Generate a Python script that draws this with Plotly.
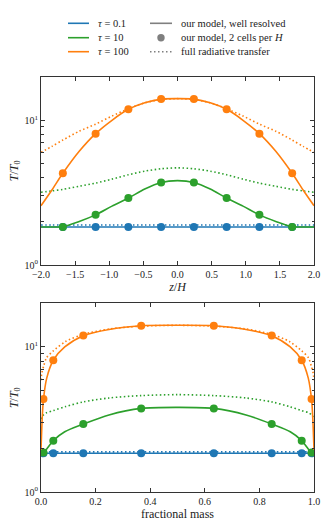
import plotly.graph_objects as go

# colours (matplotlib tab10)
BLUE = "#1f77b4"
GREEN = "#2ca02c"
ORANGE = "#ff7f0e"
GREY = "#7f7f7f"
FONT = "Liberation Serif, DejaVu Serif, serif"

# ---- top panel: temperature against height z/H ----
z_line = [-2.0, -1.84, -1.68, -1.44, -1.2, -0.96, -0.72, -0.48, -0.24, 0.0,
          0.24, 0.48, 0.72, 0.96, 1.2, 1.44, 1.68, 1.84, 2.0]
t01_line_z = [1.83] * 19
t10_line_z = [1.83, 1.83, 1.84, 2.0, 2.22, 2.55, 2.9, 3.35, 3.72, 3.83,
              3.72, 3.35, 2.9, 2.55, 2.22, 2.0, 1.84, 1.83, 1.83]
t100_line_z = [2.57, 3.3, 4.3, 6.1, 8.08, 10.0, 11.9, 13.2, 14.0, 14.1,
               14.0, 13.2, 11.9, 10.0, 8.08, 6.1, 4.3, 3.3, 2.57]

z_rt = [-2.0, -1.84, -1.68, -1.44, -1.2, -0.96, -0.72, -0.48, -0.24, 0.0,
        0.24, 0.48, 0.72, 0.96, 1.2, 1.44, 1.68, 1.84, 2.0]
t01_rt_z = [1.89] * 19
t10_rt_z = [3.18, 3.25, 3.33, 3.5, 3.68, 3.92, 4.2, 4.45, 4.62, 4.69,
            4.62, 4.45, 4.2, 3.92, 3.68, 3.5, 3.33, 3.25, 3.18]
t100_rt_z = [6.0, 6.6, 7.3, 8.4, 9.4, 10.7, 12.0, 13.2, 13.9, 14.1,
             13.9, 13.2, 12.0, 10.7, 9.4, 8.4, 7.3, 6.6, 6.0]

z_cells = [-1.68, -1.2, -0.72, -0.24, 0.24, 0.72, 1.2, 1.68]
t01_cells_z = [1.83, 1.83, 1.83, 1.83, 1.83, 1.83, 1.83, 1.83]
t10_cells_z = [1.83, 2.22, 2.9, 3.72, 3.72, 2.9, 2.22, 1.83]
t100_cells_z = [4.3, 8.08, 11.9, 14.0, 14.0, 11.9, 8.08, 4.3]

# ---- bottom panel: temperature against fractional mass ----
m_line = [0.0, 0.001, 0.0023, 0.0047, 0.0087, 0.021, 0.045, 0.087, 0.155,
          0.249, 0.367, 0.5, 0.633, 0.751, 0.845, 0.913, 0.955, 0.979,
          0.9913, 0.9953, 0.9977, 0.999, 1.0]
t01_line_m = [1.85] * 23
t10_line_m = [1.85, 1.85, 1.85, 1.85, 1.86, 1.98, 2.26, 2.6, 2.94, 3.4, 3.77,
              3.83, 3.77, 3.4, 2.94, 2.6, 2.26, 1.98, 1.86, 1.85, 1.85, 1.85,
              1.85]
t100_line_m = [1.95, 2.2, 2.57, 3.3, 4.3, 6.1, 8.1, 10.0, 11.95, 13.2, 14.0,
               14.1, 14.0, 13.2, 11.95, 10.0, 8.1, 6.1, 4.3, 3.3, 2.57, 2.2,
               1.95]

m_rt = [0.0, 0.003, 0.01, 0.02, 0.045, 0.09, 0.155, 0.25, 0.367, 0.5,
        0.633, 0.75, 0.845, 0.91, 0.955, 0.98, 0.99, 0.997, 1.0]
t01_rt_m = [1.89] * 19
t10_rt_m = [3.18, 3.3, 3.42, 3.52, 3.64, 3.88, 4.18, 4.45, 4.62, 4.69,
            4.62, 4.45, 4.18, 3.88, 3.64, 3.52, 3.42, 3.3, 3.18]
t100_rt_m = [5.9, 6.6, 7.4, 8.4, 9.4, 10.9, 12.2, 13.3, 13.9, 14.1,
             13.9, 13.3, 12.2, 10.9, 9.4, 8.4, 7.4, 6.6, 5.9]

m_cells = [0.009, 0.045, 0.155, 0.367, 0.633, 0.845, 0.955, 0.991]
t01_cells_m = [1.85, 1.85, 1.85, 1.85, 1.85, 1.85, 1.85, 1.85]
t10_cells_m = [1.87, 2.26, 2.94, 3.77, 3.77, 2.94, 2.26, 1.87]
t100_cells_m = [4.37, 8.1, 12.0, 14.0, 14.0, 12.0, 8.1, 4.37]

y_tickvals = [1, 10]
y_ticktext = ["10<sup>0</sup>", "10<sup>1</sup>"]
y_minor = [2, 3, 4, 5, 6, 7, 8, 9, 20]

legend_tau = ["<i>τ</i> = 0.1", "<i>τ</i> = 10", "<i>τ</i> = 100"]
legend_style = ["our model, well resolved", "our model, 2 cells per <i>H</i>",
                "full radiative transfer"]

W, H = 330, 528
PL, PR = 41, 314


def px_x(px):
    return (px - PL) / (PR - PL)


def px_y(py):
    return 1 - py / H


DOT = "1.5px,2.5px"

fig = go.Figure()

panels = [
    ("x", "y", z_line, z_rt, z_cells,
     [(BLUE, t01_line_z, t01_rt_z, t01_cells_z),
      (GREEN, t10_line_z, t10_rt_z, t10_cells_z),
      (ORANGE, t100_line_z, t100_rt_z, t100_cells_z)]),
    ("x2", "y2", m_line, m_rt, m_cells,
     [(BLUE, t01_line_m, t01_rt_m, t01_cells_m),
      (GREEN, t10_line_m, t10_rt_m, t10_cells_m),
      (ORANGE, t100_line_m, t100_rt_m, t100_cells_m)]),
]

for xa, ya, xl, xr, xc, series in panels:
    for color, line_vals, rt_vals, cell_vals in series:
        fig.add_trace(go.Scatter(
            x=xl, y=line_vals, mode="lines", xaxis=xa, yaxis=ya,
            line=dict(color=color, width=1.6, shape="spline", smoothing=0.8),
            showlegend=False, hoverinfo="skip",
        ))
        fig.add_trace(go.Scatter(
            x=xr, y=rt_vals, mode="lines", xaxis=xa, yaxis=ya,
            line=dict(color=color, width=1.6, dash=DOT, shape="spline",
                      smoothing=0.8),
            showlegend=False, hoverinfo="skip",
        ))
        fig.add_trace(go.Scatter(
            x=xc, y=cell_vals, mode="markers", xaxis=xa, yaxis=ya,
            marker=dict(color=color, size=8, line=dict(width=0)),
            showlegend=False,
        ))

axis_common = dict(
    showline=True, linecolor="#333333", linewidth=1, mirror="allticks",
    ticks="inside", ticklen=4, tickwidth=0.8, tickcolor="#333333",
    showgrid=False, zeroline=False, automargin=False,
    tickfont=dict(family=FONT, size=10, color="#222222"),
    title_font=dict(family=FONT, size=12, color="#222222"),
)
yaxis_common = dict(
    axis_common, type="log", range=[0, 1.301],
    tickmode="array", tickvals=y_tickvals, ticktext=y_ticktext,
    minor=dict(ticks="inside", ticklen=2.5, tickwidth=0.6,
               tickcolor="#333333", tickmode="array", tickvals=y_minor,
               showgrid=False),
    title_text="<i>T</i>/<i>T</i><sub>0</sub>", title_standoff=3,
)

fig.update_layout(
    width=W, height=H,
    margin=dict(l=PL, r=W - PR, t=0, b=0),
    template="none",
    plot_bgcolor="white", paper_bgcolor="white",
    showlegend=False,
    font=dict(family=FONT, size=10, color="#222222"),
    xaxis=dict(axis_common, domain=[0, 1], anchor="y", range=[-2, 2],
               dtick=0.5, tickformat=".1f",
               title_text="<i>z</i>/<i>H</i>", title_standoff=0),
    yaxis=dict(yaxis_common, domain=[px_y(265), px_y(76.7)], anchor="x"),
    xaxis2=dict(axis_common, domain=[0, 1], anchor="y2", range=[0, 1],
                dtick=0.2, tickformat=".1f",
                title_text="fractional mass", title_standoff=0),
    yaxis2=dict(yaxis_common, domain=[px_y(492), px_y(303.3)], anchor="x2"),
)

# hand-drawn legend above the top panel
rows_y = [23.3, 37.7, 51.7]
for i, (label, color) in enumerate(zip(legend_tau, [BLUE, GREEN, ORANGE])):
    fig.add_shape(type="line", xref="paper", yref="paper",
                  x0=px_x(68), x1=px_x(89), y0=px_y(rows_y[i]),
                  y1=px_y(rows_y[i]), line=dict(color=color, width=1.6))
    fig.add_annotation(text=label, xref="paper", yref="paper",
                       x=px_x(96), y=px_y(rows_y[i]), xanchor="left",
                       yanchor="middle", showarrow=False,
                       font=dict(family=FONT, size=10.5, color="#222222"))

fig.add_shape(type="line", xref="paper", yref="paper",
              x0=px_x(150), x1=px_x(172), y0=px_y(rows_y[0]),
              y1=px_y(rows_y[0]), line=dict(color=GREY, width=1.6))
fig.add_shape(type="circle", xref="paper", yref="paper",
              xsizemode="pixel", ysizemode="pixel",
              xanchor=px_x(161), yanchor=px_y(rows_y[1]),
              x0=-3.7, x1=3.7, y0=-3.7, y1=3.7,
              fillcolor=GREY, line=dict(width=0))
fig.add_shape(type="line", xref="paper", yref="paper",
              x0=px_x(150), x1=px_x(172), y0=px_y(rows_y[2]),
              y1=px_y(rows_y[2]), line=dict(color=GREY, width=1.6, dash=DOT))
for i, label in enumerate(legend_style):
    fig.add_annotation(text=label, xref="paper", yref="paper",
                       x=px_x(179), y=px_y(rows_y[i]), xanchor="left",
                       yanchor="middle", showarrow=False,
                       font=dict(family=FONT, size=10.5, color="#222222"))

fig.write_html(
    "out.html",
    config={"displayModeBar": False},
    post_script="document.body.style.margin='0';"
                "document.body.style.overflow='hidden';",
)
